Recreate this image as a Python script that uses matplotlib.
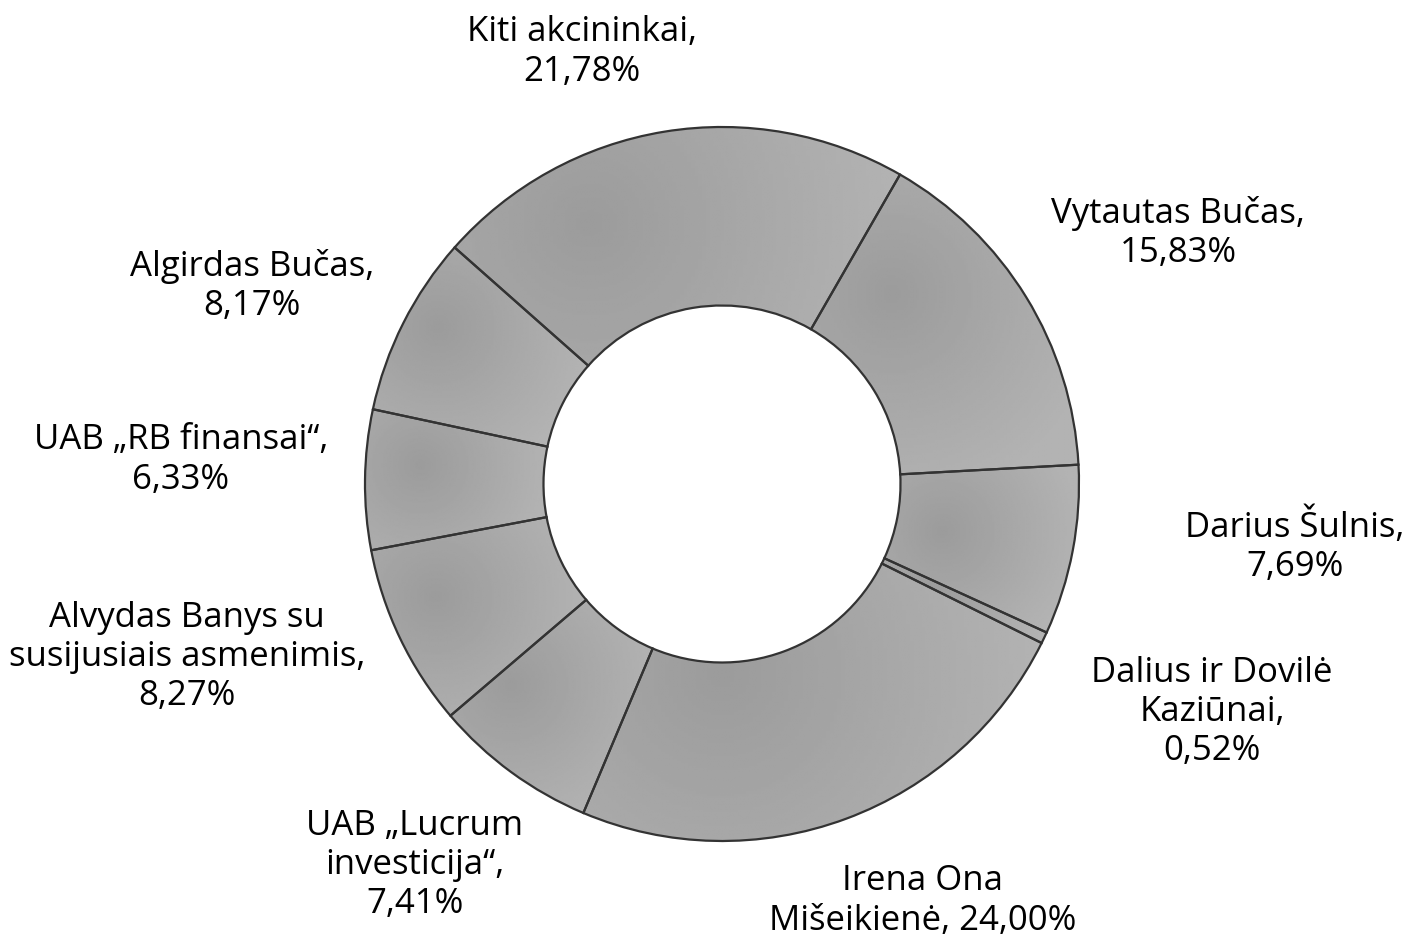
import numpy as np
import matplotlib
matplotlib.use("Agg")
import matplotlib.pyplot as plt

names = ['Kiti akcininkai,\n21,78%',
         'Vytautas Bučas,\n15,83%',
         'Darius Šulnis,\n7,69%',
         'Dalius ir Dovilė\nKaziūnai,\n0,52%',
         'Irena Ona\nMišeikienė, 24,00%',
         'UAB „Lucrum\ninvesticija“,\n7,41%',
         'Alvydas Banys su\nsusijusiais asmenimis,\n8,27%',
         'UAB „RB finansai“,\n6,33%',
         'Algirdas Bučas,\n8,17%']
shares = [21.78, 15.83, 7.69, 0.52, 24.00, 7.41, 8.27, 6.33, 8.17]
# label centres in pixels (x, y from top)
label_pos = [(582, 52), (1178, 233), (1295, 546), (1212, 712), (923, 901),
             (415, 865), (187, 657), (181, 460), (252, 286)]

W, H = 1409, 940
fig = plt.figure(figsize=(W / 100, H / 100), dpi=100)
ax = fig.add_axes([0, 0, 1, 1])

cx, cy, R = 722, H - 484, 357
wedges, _ = ax.pie(shares, center=(cx, cy), radius=R, startangle=138.5,
                   counterclock=False, frame=True,
                   wedgeprops=dict(width=R * 0.5, facecolor='none',
                                   edgecolor='#333333', linewidth=1.6))
ax.set_xlim(0, W)
ax.set_ylim(0, H)
ax.set_aspect('equal')
ax.axis('off')

# soft radial shading inside each wedge
for w in wedges:
    bb = w.get_path().get_extents()
    gx = np.linspace(bb.x0, bb.x1, 120)
    gy = np.linspace(bb.y0, bb.y1, 120)
    X, Y = np.meshgrid(gx, gy)
    px = bb.x0 + 0.3 * bb.width
    py = bb.y0 + 0.6 * bb.height
    d = np.hypot(X - px, Y - py) / max(bb.width, bb.height)
    d = np.clip(d / 0.7, 0, 1)
    img = 0.61 + (0.70 - 0.61) * d
    im = ax.imshow(img, extent=(bb.x0, bb.x1, bb.y0, bb.y1), origin='lower',
                   cmap='gray', vmin=0, vmax=1, zorder=0.5,
                   interpolation='bilinear', aspect='auto')
    im.set_clip_path(w)
    w.set_zorder(1)

ax.set_xlim(0, W)
ax.set_ylim(0, H)

for txt, (x, y) in zip(names, label_pos):
    ax.text(x, H - y, txt, ha='center', va='center', multialignment='center',
            fontsize=25, family=['Open Sans', 'DejaVu Sans'], color='black',
            linespacing=1.2)

fig.savefig('out.png', dpi=100)
